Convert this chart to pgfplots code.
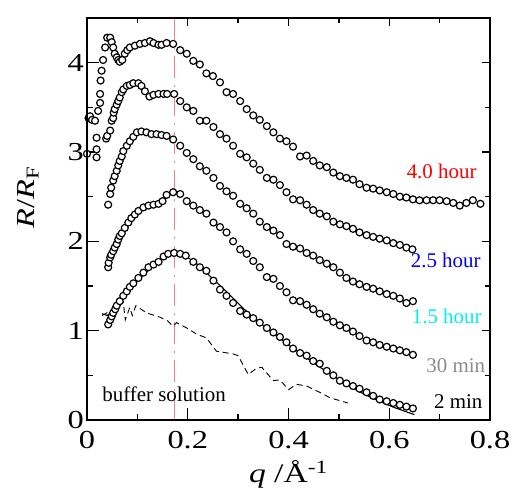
\documentclass[border=0pt]{standalone}
\usepackage{fontspec}
\setmainfont{Liberation Serif}
\newfontfamily\tickfont{Liberation Serif}[FakeStretch=1.25]
\usepackage{pgfplots}
\pgfplotsset{compat=1.18}
\definecolor{vline}{RGB}{255,125,125}
\definecolor{cyanlab}{RGB}{0,240,240}
\definecolor{graylab}{RGB}{140,140,140}

\pgfplotsset{
  frame/.style={scale only axis, width=403bp, height=402bp,
    xmin=0, xmax=0.8, ymin=0, ymax=4.5,
    xtick={0,0.2,0.4,0.6,0.8}, minor xtick={0.1,0.3,0.5,0.7},
    ytick={0,1,2,3,4}, minor ytick={0.5,1.5,2.5,3.5},
    tick align=inside,
    axis line style={line width=1.6pt},
    tick style={line width=1.4pt, black}},
  circ/.style={only marks, mark=*, mark size=3.5pt,
    mark options={fill=white, draw=black, line width=1.2pt}}
}

\begin{document}
\begin{tikzpicture}
\begin{axis}[frame, clip=false,
  xtick pos=left, ytick pos=left,
  major tick length=12bp, minor tick length=6bp,
  tick label style={font=\tickfont\fontsize{26}{26}\selectfont, inner sep=2bp},
  /pgf/number format/assume math mode=true,
  xticklabel style={/pgf/number format/fixed, /pgf/number format/precision=1, yshift=-9bp},
  yticklabel style={xshift=-1bp},
  scaled x ticks=false,
  xlabel={\textit{q} /Å\textsuperscript{-1}},
  xlabel style={font=\tickfont\fontsize{27}{27}\selectfont, at={(axis description cs:0.5,0)}, anchor=base, yshift=-62bp},
  ylabel={\textit{R}/\textit{R}\textsubscript{F}},
  ylabel style={font=\tickfont\fontsize{26}{26}\selectfont, at={(axis description cs:-0.146,0.554)}, anchor=center},
]
% peak position
\addplot[vline, line width=1.1pt, dash pattern=on 22bp off 7bp on 2bp off 7bp] coordinates {(0.173,0) (0.173,4.5)};

% 4.0 hour
\addplot[circ] table {
0.000 2.98
0.003 3.38
0.006 3.40
0.010 3.36
0.016 3.35
0.019 3.16
0.019 3.03
0.019 2.94
0.022 3.46
0.026 3.55
0.026 3.65
0.027 3.80
0.029 3.91
0.032 4.03
0.036 4.17
0.040 4.28
0.046 4.28
0.049 4.23
0.052 4.17
0.055 4.10
0.059 4.06
0.062 4.03
0.065 4.01
0.070 4.03
0.075 4.10
0.080 4.14
0.085 4.17
0.095 4.19
0.105 4.21
0.115 4.22
0.125 4.24
0.132 4.22
0.142 4.20
0.148 4.20
0.158 4.22
0.171 4.21
0.185 4.14
0.198 4.10
0.211 4.02
0.224 3.98
0.237 3.88
0.250 3.85
0.264 3.78
0.277 3.67
0.290 3.65
0.304 3.57
0.317 3.48
0.330 3.41
0.343 3.36
0.357 3.29
0.370 3.22
0.383 3.15
0.396 3.12
0.409 3.06
0.423 2.95
0.436 2.96
0.449 2.90
0.462 2.85
0.476 2.83
0.489 2.77
0.502 2.73
0.515 2.71
0.528 2.69
0.541 2.64
0.555 2.60
0.568 2.59
0.581 2.57
0.595 2.55
0.608 2.53
0.621 2.50
0.634 2.49
0.647 2.47
0.660 2.46
0.674 2.46
0.687 2.46
0.700 2.46
0.714 2.45
0.727 2.43
0.740 2.40
0.753 2.43
0.766 2.46
0.781 2.42
};

% 2.5 hour
\addplot[circ] table {
0.038 3.15
0.040 3.18
0.046 3.24
0.049 3.35
0.052 3.38
0.053 3.44
0.055 3.48
0.059 3.53
0.062 3.57
0.065 3.61
0.069 3.67
0.072 3.70
0.079 3.74
0.085 3.75
0.092 3.77
0.102 3.77
0.108 3.74
0.115 3.68
0.124 3.62
0.132 3.64
0.142 3.65
0.152 3.65
0.159 3.65
0.173 3.65
0.185 3.57
0.198 3.50
0.211 3.46
0.224 3.35
0.237 3.35
0.251 3.28
0.264 3.20
0.277 3.15
0.290 3.07
0.304 2.98
0.317 2.94
0.330 2.87
0.343 2.80
0.357 2.71
0.370 2.69
0.383 2.63
0.396 2.55
0.409 2.47
0.423 2.46
0.436 2.41
0.449 2.35
0.462 2.31
0.476 2.28
0.489 2.22
0.502 2.19
0.515 2.17
0.528 2.14
0.541 2.10
0.555 2.07
0.568 2.05
0.581 2.03
0.595 2.01
0.608 1.98
0.621 1.96
0.634 1.93
0.646 1.91
};

% 1.5 hour
\addplot[circ] table {
0.042 2.41
0.046 2.53
0.048 2.60
0.052 2.68
0.055 2.73
0.059 2.79
0.062 2.85
0.065 2.90
0.069 2.95
0.072 3.01
0.079 3.07
0.085 3.12
0.092 3.17
0.099 3.22
0.108 3.23
0.118 3.22
0.128 3.20
0.138 3.20
0.148 3.19
0.158 3.18
0.171 3.14
0.185 3.07
0.198 2.99
0.211 2.92
0.224 2.84
0.237 2.79
0.251 2.71
0.264 2.62
0.277 2.56
0.290 2.51
0.304 2.42
0.317 2.37
0.330 2.31
0.343 2.22
0.357 2.16
0.370 2.12
0.383 2.07
0.396 1.97
0.409 1.94
0.423 1.92
0.436 1.87
0.449 1.84
0.462 1.79
0.476 1.75
0.489 1.71
0.502 1.65
0.515 1.59
0.528 1.55
0.541 1.52
0.555 1.49
0.568 1.47
0.581 1.44
0.595 1.41
0.608 1.39
0.621 1.36
0.634 1.31
0.647 1.33
};

% 30 min
\addplot[circ] table {
0.042 1.71
0.043 1.76
0.046 1.82
0.048 1.85
0.052 1.89
0.055 1.93
0.059 1.97
0.062 2.02
0.065 2.06
0.069 2.09
0.075 2.15
0.082 2.21
0.088 2.26
0.095 2.30
0.102 2.34
0.112 2.38
0.122 2.40
0.132 2.41
0.142 2.42
0.150 2.45
0.158 2.52
0.171 2.55
0.185 2.53
0.198 2.45
0.211 2.40
0.224 2.35
0.237 2.31
0.251 2.21
0.264 2.16
0.277 2.10
0.290 2.00
0.304 1.91
0.317 1.86
0.330 1.78
0.343 1.71
0.357 1.60
0.370 1.58
0.383 1.50
0.396 1.43
0.409 1.34
0.423 1.33
0.436 1.29
0.449 1.24
0.462 1.19
0.476 1.15
0.489 1.10
0.502 1.06
0.515 1.03
0.528 0.99
0.541 0.94
0.555 0.89
0.568 0.87
0.581 0.84
0.595 0.82
0.608 0.80
0.621 0.78
0.634 0.76
0.647 0.73
};

% 2 min
\addplot[circ] table {
0.042 1.07
0.046 1.12
0.049 1.16
0.052 1.20
0.056 1.24
0.059 1.28
0.065 1.33
0.072 1.39
0.079 1.44
0.085 1.49
0.092 1.53
0.102 1.59
0.112 1.65
0.122 1.71
0.132 1.74
0.142 1.77
0.152 1.83
0.161 1.86
0.173 1.87
0.185 1.86
0.196 1.84
0.211 1.77
0.224 1.71
0.237 1.67
0.251 1.56
0.264 1.46
0.277 1.39
0.290 1.31
0.304 1.22
0.317 1.18
0.330 1.14
0.343 1.09
0.357 1.03
0.370 0.98
0.383 0.93
0.396 0.87
0.409 0.80
0.423 0.75
0.436 0.72
0.449 0.66
0.462 0.63
0.476 0.55
0.489 0.50
0.502 0.44
0.515 0.41
0.528 0.38
0.541 0.35
0.555 0.31
0.568 0.27
0.581 0.23
0.595 0.21
0.608 0.19
0.621 0.17
0.634 0.15
0.647 0.13
};

% fit to 2 min
\addplot[black, line width=1.1pt] table {
0.030 1.19
0.040 1.17
0.050 1.21
0.070 1.36
0.100 1.56
0.130 1.72
0.160 1.85
0.175 1.88
0.190 1.86
0.220 1.74
0.250 1.58
0.280 1.42
0.310 1.25
0.340 1.10
0.370 0.97
0.400 0.84
0.430 0.72
0.460 0.60
0.490 0.49
0.520 0.38
0.550 0.29
0.580 0.21
0.610 0.14
0.630 0.10
0.650 0.06
};

% buffer solution
\addplot[black, line width=0.9pt, dash pattern=on 6bp off 4bp] table {
0.030 1.17
0.055 1.25
0.072 1.32
0.076 1.12
0.085 1.26
0.090 1.17
0.097 1.28
0.118 1.20
0.145 1.15
0.160 1.11
0.171 1.05
0.178 1.09
0.198 1.03
0.218 0.96
0.237 0.92
0.257 0.77
0.290 0.74
0.300 0.72
0.320 0.51
0.337 0.58
0.347 0.59
0.370 0.44
0.383 0.45
0.400 0.34
0.416 0.40
0.436 0.38
0.462 0.31
0.482 0.25
0.518 0.19
};

\begin{scope}[every node/.style={font=\fontsize{21}{21}\selectfont, inner sep=1bp}]
\node[red, fill=white] at (axis cs:0.704,2.78) {4.0 hour};
\node[blue, fill=white] at (axis cs:0.712,1.79) {2.5 hour};
\node[cyanlab, fill=white] at (axis cs:0.714,1.16) {1.5 hour};
\node[graylab, fill=white] at (axis cs:0.732,0.61) {30 min};
\node[black] at (axis cs:0.737,0.21) {2 min};
\node[black] at (axis cs:0.153,0.29) {buffer solution};
\end{scope}
\end{axis}

% top and right ticks are shorter
\begin{axis}[frame, xtick pos=right, ytick pos=right,
  major tick length=8bp, minor tick length=5bp,
  xticklabels={}, yticklabels={}]
\end{axis}

\path ([shift={(-87bp,-68bp)}]current axis.south west) rectangle ([shift={(23bp,18bp)}]current axis.north east);
\end{tikzpicture}
\end{document}
